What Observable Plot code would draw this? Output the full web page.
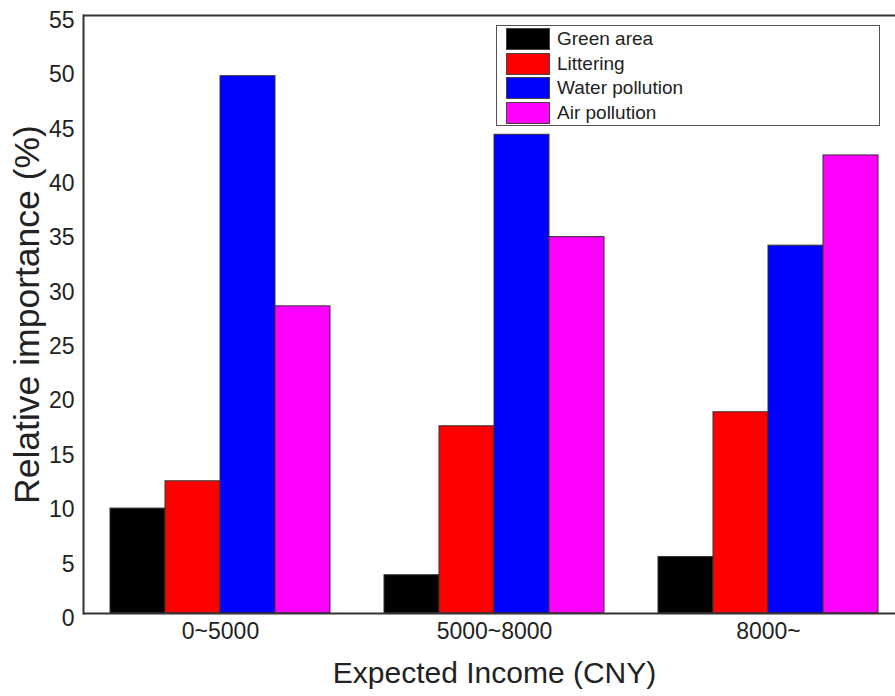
<!DOCTYPE html>
<html>
<head>
<meta charset="utf-8">
<script src="https://cdn.jsdelivr.net/npm/d3@7"></script>
<script src="https://cdn.jsdelivr.net/npm/@observablehq/plot@0.6"></script>
<style>
  body { margin: 0; background: #fff; }
  #chart { position: relative; width: 895px; height: 696px; font-family: "Liberation Sans", Arial, sans-serif; }
  #legend {
    position: absolute; left: 496px; top: 25px; width: 384px; height: 101px;
    box-sizing: border-box; border: 1.5px solid #555; background: #fff;
    padding: 1px 0 0 9px;
  }
  .row { display: flex; align-items: center; height: 24.6px; }
  .sw { width: 44px; height: 22px; box-sizing: border-box; border: 1px solid #444; margin-right: 7px; }
  .lab { font-size: 19px; color: #222; }
</style>
</head>
<body>
<div id="chart"></div>
<script>
// Income brackets and the four environmental concerns
const groups = ["0~5000", "5000~8000", "8000~"];
const series = ["Green area", "Littering", "Water pollution", "Air pollution"];
const colors = ["#000000", "#ff0000", "#0000ff", "#ff00ff"];

// Relative importance (%) per bracket
const greenArea = [9.65, 3.52, 5.20];
const littering = [12.16, 17.22, 18.51];
const waterPollution = [49.42, 44.03, 33.83];
const airPollution = [28.25, 34.62, 42.13];

const yTicks = [0, 5, 10, 15, 20, 25, 30, 35, 40, 45, 50, 55];

const seriesValues = [greenArea, littering, waterPollution, airPollution];
const rows = groups.flatMap((g, i) =>
  series.map((s, j) => ({group: g, series: s, value: seriesValues[j][i]}))
);

const font = "'Liberation Sans', Arial, sans-serif";

const chart = Plot.plot({
  width: 895,
  height: 696,
  marginLeft: 83,
  marginRight: -10,
  marginTop: 15,
  marginBottom: 83,
  style: {fontFamily: font, background: "white", color: "#222"},
  fx: {domain: groups, padding: 0, label: null, axis: null},
  x: {domain: series, paddingInner: 0, paddingOuter: 0.4909, axis: null},
  y: {domain: [0, 55], axis: null},
  color: {domain: series, range: colors},
  marks: [
    Plot.barY(rows, {
      fx: "group", x: "series", y: "value",
      fill: "series", stroke: "#333", strokeWidth: 1, inset: 0
    }),
    Plot.ruleY([0, 55], {stroke: "#333", strokeWidth: 2}),
    Plot.frame({anchor: "left", facetAnchor: "left", stroke: "#333", strokeWidth: 2}),
    Plot.axisY(yTicks, {tickSize: 0, tickPadding: 9, fontSize: 23, dy: 5, label: null}),
    Plot.axisY([], {label: "Relative importance (%)", labelArrow: "none", labelAnchor: "center", labelOffset: 70, fontSize: 35.5}),
    Plot.axisFx({anchor: "bottom", tickSize: 0, tickPadding: 9, fontSize: 23, label: null}),
    Plot.axisFx([], {anchor: "bottom", label: "Expected Income (CNY)", labelArrow: "none", labelAnchor: "center", labelOffset: 69, fontSize: 30})
  ]
});

const root = document.getElementById("chart");
root.appendChild(chart);

// Legend box in the upper right of the plot area
const legend = document.createElement("div");
legend.id = "legend";
series.forEach((s, i) => {
  const row = document.createElement("div");
  row.className = "row";
  const sw = document.createElement("div");
  sw.className = "sw";
  sw.style.background = colors[i];
  const lab = document.createElement("span");
  lab.className = "lab";
  lab.textContent = s;
  row.appendChild(sw);
  row.appendChild(lab);
  legend.appendChild(row);
});
root.appendChild(legend);
</script>
</body>
</html>
